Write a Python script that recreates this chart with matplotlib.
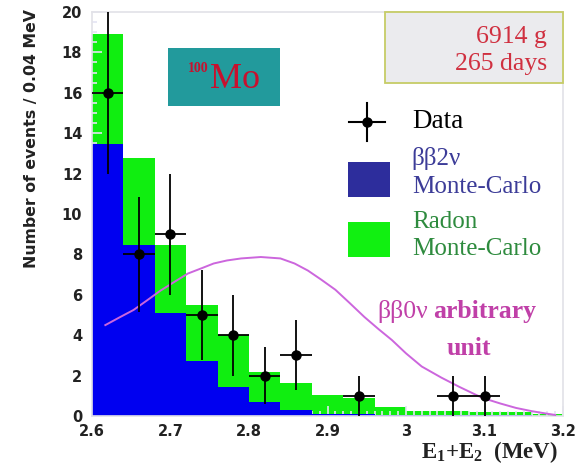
import numpy as np
import matplotlib
matplotlib.use("Agg")
import matplotlib.pyplot as plt
from matplotlib.patches import Rectangle
from matplotlib.ticker import MultipleLocator

# binning: 0.04 MeV bins from 2.60 to 3.20
bin_edges = [2.60, 2.64, 2.68, 2.72, 2.76, 2.80, 2.84, 2.88, 2.92, 2.96,
             3.00, 3.04, 3.08, 3.12, 3.16, 3.20]
# total MC (radon on top of bb2v) and bb2v alone
total_mc = [18.9, 12.75, 8.45, 5.5, 4.0, 2.2, 1.65, 1.05, 0.9, 0.45,
            0.25, 0.25, 0.2, 0.2, 0.1]
bb2v_mc = [13.45, 8.45, 5.1, 2.7, 1.45, 0.7, 0.3, 0.12, 0.08, 0.06,
           0.05, 0.04, 0.03, 0.03, 0.02]

# measured events
data_x = [2.62, 2.66, 2.70, 2.74, 2.78, 2.82, 2.86, 2.94, 3.06, 3.10]
data_y = [16, 8, 9, 5, 4, 2, 3, 1, 1, 1]
data_yerr = [4.0, 2.83, 3.0, 2.24, 2.0, 1.41, 1.73, 1.0, 1.0, 1.0]
data_xerr = 0.02

# bb0v shape, arbitrary normalisation
bb0v_x = [2.617, 2.635, 2.653, 2.670, 2.687, 2.705, 2.722, 2.740, 2.755,
          2.772, 2.790, 2.815, 2.840, 2.858, 2.875, 2.892, 2.910, 2.928,
          2.947, 2.965, 2.982, 3.000, 3.020, 3.045, 3.068, 3.097, 3.120,
          3.140, 3.160, 3.174, 3.190]
bb0v_y = [4.50, 4.88, 5.25, 5.72, 6.20, 6.64, 7.05, 7.32, 7.55, 7.70,
          7.80, 7.87, 7.80, 7.55, 7.20, 6.75, 6.25, 5.60, 4.90, 4.30,
          3.76, 3.10, 2.45, 1.90, 1.44, 0.90, 0.62, 0.40, 0.24, 0.15, 0.05]

x_ticks = [2.6, 2.7, 2.8, 2.9, 3.0, 3.1, 3.2]
x_ticklabels = ['2.6', '2.7', '2.8', '2.9', '3', '3.1', '3.2']

plt.rcParams['mathtext.default'] = 'regular'

fig = plt.figure(figsize=(5.87, 4.70), dpi=100)
ax = fig.add_axes([0.1567, 0.1149, 0.8025, 0.8596])

centers = [(a + b) / 2 for a, b in zip(bin_edges[:-1], bin_edges[1:])]
ax.bar(centers, total_mc, width=0.04, color='#10ee10', linewidth=0, zorder=1)
ax.bar(centers, bb2v_mc, width=0.04, color='#0000f0', linewidth=0, zorder=2)

ax.plot(bb0v_x, bb0v_y, color='#cc66dd', lw=1.4, zorder=3)

ax.errorbar(data_x, data_y, yerr=data_yerr, xerr=data_xerr, fmt='o',
            color='black', ms=6.5, elinewidth=1.3, capsize=0, zorder=4)

ax.set_xlim(2.6, 3.2)
ax.set_ylim(0, 20)
ax.set_xticks(x_ticks)
ax.set_xticklabels(x_ticklabels)
ax.xaxis.set_minor_locator(MultipleLocator(0.01))
ax.yaxis.set_major_locator(MultipleLocator(2))
ax.yaxis.set_minor_locator(MultipleLocator(0.5))
ax.tick_params(which='both', direction='in', color='#e4e4f4', width=1.2,
               labelsize=10.5, top=False, right=False)
ax.tick_params(which='major', length=7)
ax.tick_params(which='minor', length=3.5)
ax.tick_params(axis='y', pad=7)
ax.tick_params(axis='x', pad=6)
for lab in ax.get_xticklabels() + ax.get_yticklabels():
    lab.set_fontweight('bold')
    lab.set_color('#222222')
for s in ax.spines.values():
    s.set_color('#e2e2e8')
    s.set_linewidth(1.2)

fig.text(0.053, 0.705, 'Number of events / 0.04 MeV', rotation=90,
         ha='center', va='center', fontsize=11.3, fontweight='bold',
         color='#222222')
fig.text(0.951, 0.026, 'E$_1$+E$_2$  (MeV)', ha='right', va='baseline',
         fontsize=16.5, fontweight='bold', family='Liberation Serif',
         color='#222222')

serif = 'Liberation Serif'

# exposure box
ax.add_patch(Rectangle((0.622, 0.824), 0.378, 0.176, transform=ax.transAxes,
                       facecolor='#ebebee', edgecolor='#c6cc66', lw=1.3,
                       zorder=5, clip_on=False))
ax.text(0.966, 0.923, '6914 g', transform=ax.transAxes, ha='right',
        va='baseline', fontsize=18.5, family=serif, color='#d03040', zorder=6)
ax.text(0.966, 0.856, '265 days', transform=ax.transAxes, ha='right',
        va='baseline', fontsize=18.5, family=serif, color='#d03040', zorder=6)

# isotope label: small bold mass number, then element symbol
ax.add_patch(Rectangle((0.161, 0.767), 0.238, 0.144, transform=ax.transAxes,
                       facecolor='#229a9c', edgecolor='none', zorder=5))
ax.text(0.204, 0.851, '100', transform=ax.transAxes, ha='left',
        va='baseline', fontsize=10, fontweight='bold', family=serif,
        color='#c8102e', zorder=6)
ax.text(0.251, 0.812, 'Mo', transform=ax.transAxes, ha='left',
        va='baseline', fontsize=26, family=serif, color='#c8102e', zorder=6)

# legend
tr = ax.transAxes
ax.plot([0.546, 0.622], [0.728, 0.728], color='black', lw=1.5,
        transform=tr, zorder=6)
ax.plot([0.584, 0.584], [0.681, 0.775], color='black', lw=1.5,
        transform=tr, zorder=6)
ax.plot([0.584], [0.728], 'o', color='black', ms=6.5, transform=tr, zorder=6)
ax.text(0.679, 0.713, 'Data', transform=tr, va='baseline', fontsize=19.5,
        family=serif, color='black')

ax.add_patch(Rectangle((0.544, 0.542), 0.089, 0.087, transform=tr,
                       facecolor='#2d2d9c', edgecolor='none', zorder=6))
ax.text(0.679, 0.621, 'ββ2ν', transform=tr, va='baseline', fontsize=18,
        family=serif, color='#3c3c98')
ax.text(0.679, 0.552, 'Monte-Carlo', transform=tr, va='baseline',
        fontsize=18, family=serif, color='#3c3c98')

ax.add_patch(Rectangle((0.544, 0.394), 0.089, 0.086, transform=tr,
                       facecolor='#11f011', edgecolor='none', zorder=6))
ax.text(0.679, 0.465, 'Radon', transform=tr, va='baseline', fontsize=18,
        family=serif, color='#2e8b3e')
ax.text(0.679, 0.399, 'Monte-Carlo', transform=tr, va='baseline',
        fontsize=18, family=serif, color='#2e8b3e')

# bb0v annotation
ax.text(0.605, 0.243, 'ββ0ν', transform=tr, va='baseline', fontsize=18.5,
        family=serif, color='#c040a8')
ax.text(0.724, 0.243, 'arbitrary', transform=tr, va='baseline',
        fontsize=18.5, family=serif, fontweight='bold', color='#c040a8')
ax.text(0.800, 0.151, 'unit', transform=tr, va='baseline', ha='center',
        fontsize=18.5, family=serif, fontweight='bold', color='#c040a8')

fig.savefig('out.png', dpi=100, facecolor='white')
